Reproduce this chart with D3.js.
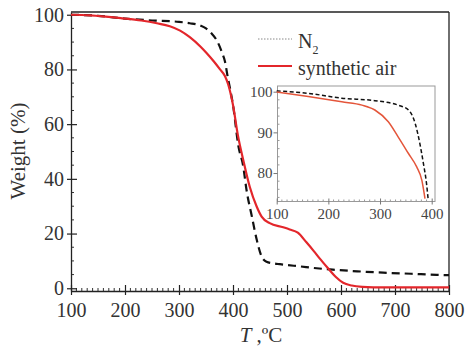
<!DOCTYPE html>
<html><head><meta charset="utf-8">
<script src="https://cdn.jsdelivr.net/npm/d3@7/dist/d3.min.js"></script>
<style>
@font-face{font-family:"SerifLocal";src:local("Liberation Serif"),local("LiberationSerif"),local("LiberationSerif-Regular");font-style:normal;font-weight:400;}
@font-face{font-family:"SerifLocal";src:local("Liberation Serif Italic"),local("LiberationSerif-Italic");font-style:italic;font-weight:400;}
</style>
</head><body style="margin:0;background:#fff"><svg id="c" width="469" height="353" style="display:block"></svg>
<script>
// Main chart data
const n2T = [100,150,200,250,300,320,340,350,360,370,380,385,390,395,400,410,419,425,435,444,453,462,475,487,500,524,550,585,630,678,730,777,800];
const n2W = [100,99.6,98.6,97.9,97.4,96.9,96.0,95.0,93.2,90.6,86.0,83.0,77.5,72.5,67,52,44.5,36,26.2,17.7,11.6,9.7,9.1,8.8,8.5,8.0,7.4,6.8,6.2,5.7,5.3,4.9,4.8];
const airT = [100,135,196,230,259,283,302,320,340,351,365,376,385,391,400,409,419,431,444,453,468,493,505,520,536,550,560,576,590,604,620,640,660,700,800];
const airW = [100,99.8,98.7,97.9,96.9,95.8,94.2,91.8,88.3,86.0,82.8,80.0,77.6,74.6,67,56,46.9,37.1,29.8,26.2,23.8,22.3,21.5,20.3,16.8,13.5,11.0,7.3,4.2,2.0,1.0,0.5,0.35,0.3,0.3];
// Inset data
const inN2T = [100,161,226,290,335,355,368,377,384,390,393];
const inN2W = [100.2,99.6,98.4,97.8,96.7,95.5,92.2,87.3,82.3,77.4,73.7];
const inAirT = [100,161,226,265,290,316,335,355,371,381,387];
const inAirW = [99.9,98.8,97.5,96.7,95.5,92.6,88.9,84.8,81.5,78.2,73.7];
const xTicks = [100,200,300,400,500,600,700,800];
const yTicks = [0,20,40,60,80,100];
const inXTicks = [100,200,300,400];
const inYTicks = [80,90,100];
const legendLabels = ["N", "synthetic air"];

const SERIF = '"Liberation Serif","SerifLocal","Times New Roman",Tinos,serif';
const svg = d3.select("#c");
const x = d3.scaleLinear().domain([100,800]).range([71,449]);
const y = d3.scaleLinear().domain([-1,101]).range([291,12]);
const g = svg.append("g");

// minor ticks
const xMinor = d3.range(100,801,10).filter(v=>v%100!==0);
g.selectAll(".xm").data(xMinor).enter().append("line")
 .attr("x1",d=>x(d)).attr("x2",d=>x(d)).attr("y1",291).attr("y2",288)
 .attr("stroke","#333").attr("stroke-width",1);
const yMinor = d3.range(0,101,5).filter(v=>v%20!==0);
g.selectAll(".ym").data(yMinor).enter().append("line")
 .attr("x1",71).attr("x2",74).attr("y1",d=>y(d)).attr("y2",d=>y(d))
 .attr("stroke","#333").attr("stroke-width",1);

// axes
const xAx = g.append("g").attr("transform","translate(0,291)")
 .call(d3.axisBottom(x).tickValues(xTicks).tickSizeInner(4).tickSizeOuter(0).tickPadding(8));
xAx.selectAll(".tick line").attr("y1",-6);
const yAx = g.append("g").attr("transform","translate(71,0)")
 .call(d3.axisLeft(y).tickValues(yTicks).tickSizeInner(4).tickSizeOuter(0).tickPadding(3));
yAx.selectAll(".tick line").attr("x1",6);
[xAx,yAx].forEach(a=>{
 a.attr("font-family",SERIF).attr("font-size",20);
 a.selectAll("path").attr("stroke","#222").attr("stroke-width",1.3);
 a.selectAll("line").attr("stroke","#222").attr("stroke-width",1.2);
 a.selectAll("text").style("font-size","20px").attr("fill","#333");});
// frame top/right
g.append("line").attr("x1",71).attr("x2",449).attr("y1",12).attr("y2",12).attr("stroke","#222").attr("stroke-width",1.3);
g.append("line").attr("x1",449).attr("x2",449).attr("y1",12).attr("y2",291).attr("stroke","#222").attr("stroke-width",1.3);

const line = (xs,ys,X,Y)=>d3.line().x(i=>X(xs[i])).y(i=>Y(ys[i])).curve(d3.curveMonotoneX)(d3.range(xs.length));

g.append("path").attr("d",line(n2T,n2W,x,y)).attr("fill","none").attr("stroke","#111")
 .attr("stroke-width",2.2).attr("stroke-dasharray","8,5");
g.append("path").attr("d",line(airT,airW,x,y)).attr("fill","none").attr("stroke","#e3262b")
 .attr("stroke-width",2.2);

// axis labels
svg.append("text").attr("transform","translate(25,151) rotate(-90)").attr("text-anchor","middle")
 .style("font-size","21px").attr("fill","#333").text("Weight (%)");
const xl = svg.append("text").attr("x",261).attr("y",342).attr("text-anchor","middle").style("font-size","21px").attr("fill","#333");
xl.append("tspan").style("font-style","italic").text("T");
xl.append("tspan").text(" ,ºC");

// legend
svg.append("line").attr("x1",258).attr("x2",292).attr("y1",39).attr("y2",39).attr("stroke","#888").attr("stroke-width",1).attr("stroke-dasharray","1.5,1.5");
const lt = svg.append("text").attr("x",298).attr("y",48).style("font-size","20px").attr("fill","#333");
lt.append("tspan").text(legendLabels[0]);
lt.append("tspan").attr("dy",6).style("font-size","12px").text("2");
svg.append("line").attr("x1",258).attr("x2",292).attr("y1",66).attr("y2",66).attr("stroke","#e3262b").attr("stroke-width",2);
svg.append("text").attr("x",298).attr("y",75).style("font-size","20px").attr("fill","#333").text(legendLabels[1]);

// inset
const ix = d3.scaleLinear().domain([100,400]).range([276.7,431.7]);
const iy = d3.scaleLinear().domain([73,101.4]).range([201.5,86]);
const ig = svg.append("g");
ig.append("rect").attr("x",277.5).attr("y",86).attr("width",435-277.5).attr("height",201.5-86)
 .attr("fill","#fff").attr("stroke","#999").attr("stroke-width",1);
ig.selectAll(".ixm").data(d3.range(100,401,10).filter(v=>v%100!==0)).enter().append("line")
 .attr("x1",d=>ix(d)).attr("x2",d=>ix(d)).attr("y1",201.5).attr("y2",199.5).attr("stroke","#999");
ig.selectAll(".iym").data(d3.range(74,101,2).filter(v=>v%10!==0)).enter().append("line")
 .attr("x1",277.5).attr("x2",279.5).attr("y1",d=>iy(d)).attr("y2",d=>iy(d)).attr("stroke","#999");
const ixAx = ig.append("g").attr("transform","translate(0,201.5)")
 .call(d3.axisBottom(ix).tickValues(inXTicks).tickSizeInner(3).tickSizeOuter(0).tickPadding(4));
ixAx.selectAll(".tick line").attr("y1",-3);
const iyAx = ig.append("g").attr("transform","translate(277.5,0)")
 .call(d3.axisLeft(iy).tickValues(inYTicks).tickSizeInner(4).tickSizeOuter(0).tickPadding(1));
[ixAx,iyAx].forEach(a=>{a.select("path").remove();
 a.attr("font-family",SERIF).attr("font-size",15);
 a.selectAll("line").attr("stroke","#777").attr("stroke-width",1);
 a.selectAll("text").style("font-size","15px").attr("fill","#444");});
ig.append("path").attr("d",line(inN2T,inN2W,ix,iy)).attr("fill","none").attr("stroke","#111")
 .attr("stroke-width",1.5).attr("stroke-dasharray","4,2.5");
ig.append("path").attr("d",line(inAirT,inAirW,ix,iy)).attr("fill","none").attr("stroke","#e4553a")
 .attr("stroke-width",1.5);

function applyFont(){ svg.selectAll("text").style("font-family",SERIF); }
applyFont();
if (document.fonts && document.fonts.load) {
  document.fonts.load('20px "SerifLocal"').then(applyFont).catch(()=>{});
}
</script></body></html>
